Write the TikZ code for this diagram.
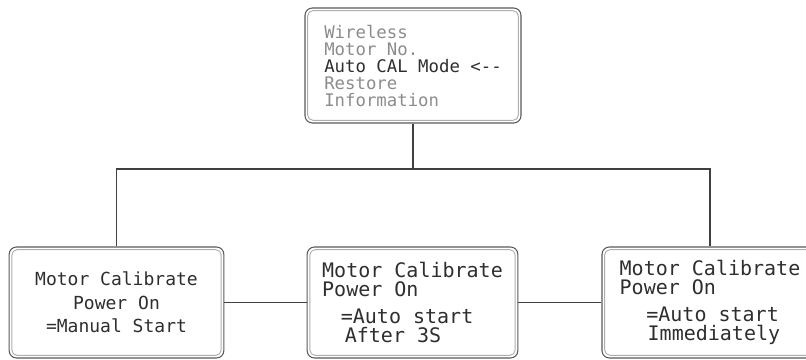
\documentclass[tikz,border=0pt]{standalone}
\usepackage{fontspec}
\setmonofont{DejaVu Sans Mono}
\usepackage{tikz}
\definecolor{lcdedge}{gray}{0.35}
\definecolor{lcdrim}{gray}{0.68}
\definecolor{lcdgray}{gray}{0.55}
\definecolor{lcdtext}{gray}{0.18}
\definecolor{wire}{gray}{0.25}

\tikzset{
  lcd/.style={rectangle, rounded corners=5.5pt, draw=lcdedge, line width=0.8pt,
    minimum width=161pt, minimum height=83.25pt, text=lcdtext, inner sep=0pt},
  lcdinner/.style={draw=lcdrim, line width=0.7pt, rounded corners=4pt},
  wire/.style={draw=wire, line width=0.9pt}
}

\begin{document}
\begin{tikzpicture}[x=0.75pt, y=-0.75pt]
  \useasboundingbox (0, 0) rectangle (806, 360);

  \node[lcd, minimum width=162pt, minimum height=86.25pt, align=left,
    font=\ttfamily\fontsize{13}{12.75}\selectfont] (top) at (413, 65.5) {
    \textcolor{lcdgray}{Wireless}\\
    \textcolor{lcdgray}{Motor No.}\\
    Auto CAL Mode <{-}{-}\\
    \textcolor{lcdgray}{Restore}\\
    \textcolor{lcdgray}{Information} };

  \node[lcd, align=center, font=\ttfamily\fontsize{13.5}{17.5}\selectfont]
    (manual) at (116.5, 302.5) {
    Motor Calibrate\\
    Power On\\
    =Manual Start };

  \node[lcd, minimum width=158pt, align=left, font=\ttfamily\fontsize{15}{14.5}\selectfont]
    (after) at (412.5, 302.5) {
    Motor Calibrate\\
    Power On\\[5.5pt]
    \hspace*{14pt}=Auto start\\
    \hspace*{17pt}After 3S };

  \node[lcd, minimum width=162pt, align=left, font=\ttfamily\fontsize{15}{14.5}\selectfont]
    (immed) at (710, 302.5) {
    Motor Calibrate\\
    Power On\\[5.5pt]
    \hspace*{20pt}=Auto start\\
    \hspace*{21pt}Immediately };

  \foreach \b in {top, manual, after, immed} {
    \draw[lcdinner] ([shift={(2.4pt, -2.4pt)}]\b.north west)
      rectangle ([shift={(-2.4pt, 2.4pt)}]\b.south east);
  }

  \coordinate (bus) at (413, 169);
  \draw[wire] (top.south) -- (bus);
  \draw[wire] (manual.north) |- (bus) -| (immed.north);
  \draw[wire] (manual.east) -- (after.west);
  \draw[wire] (after.east) -- (immed.west);

\end{tikzpicture}
\end{document}
